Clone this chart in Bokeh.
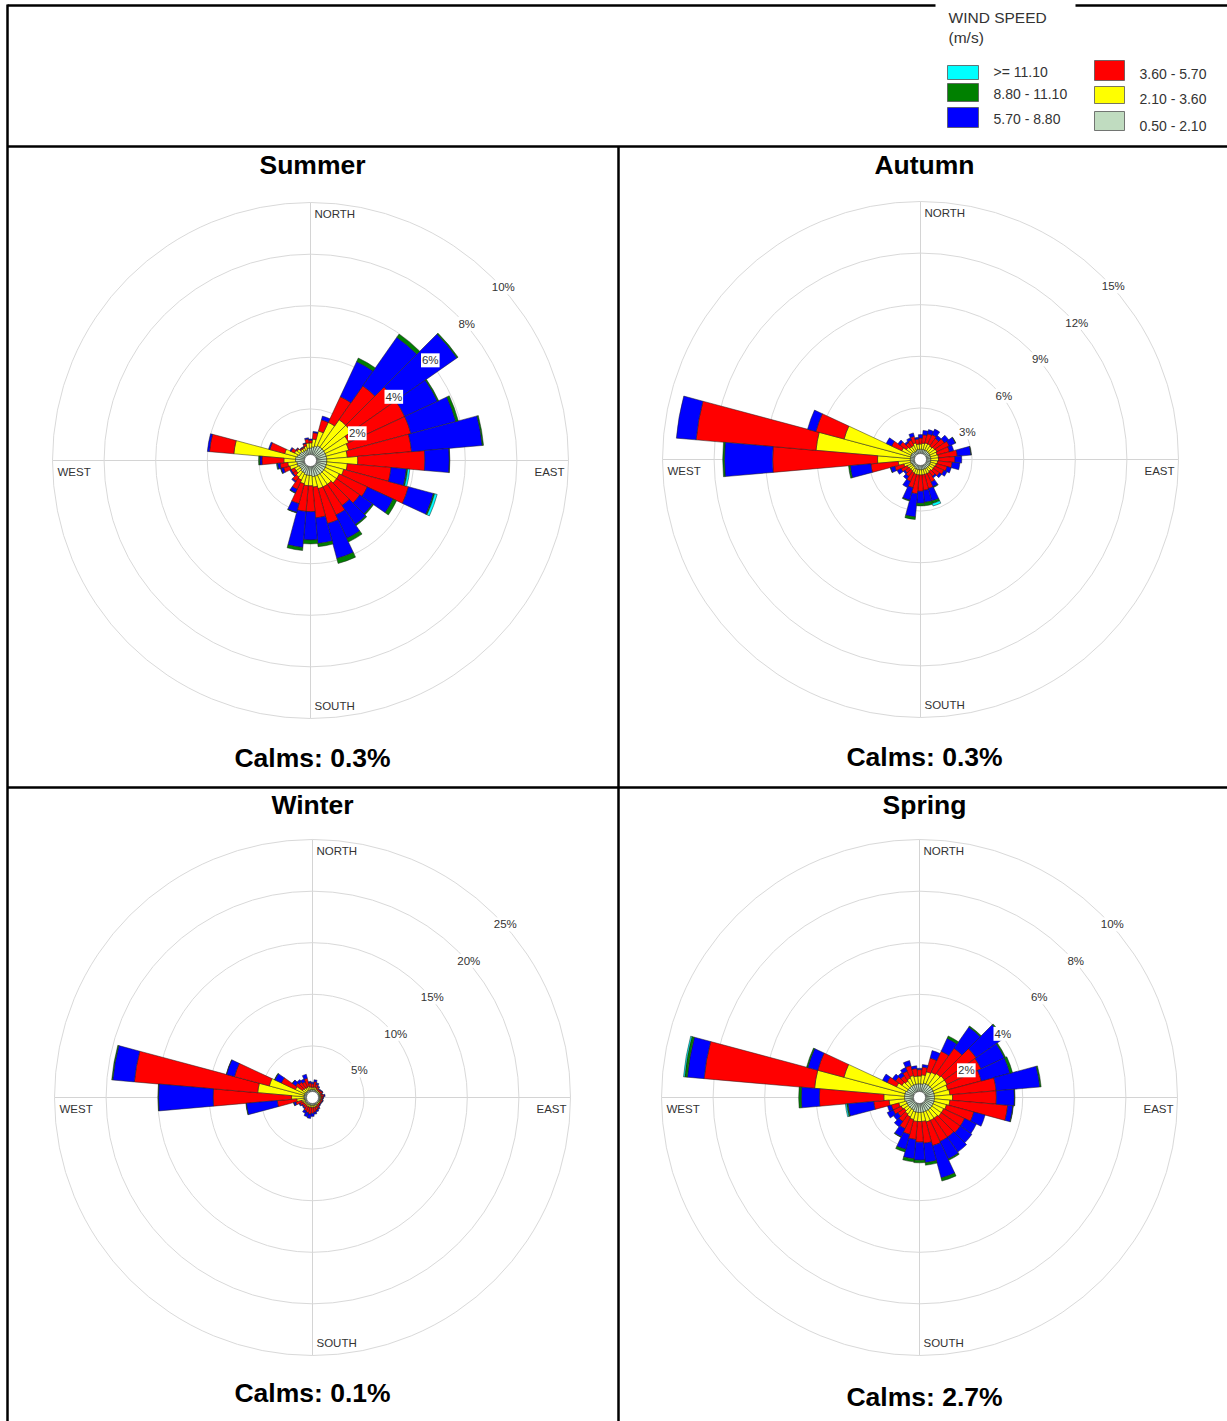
import numpy as np
from bokeh.plotting import figure
from bokeh.models import Range1d, ColumnDataSource
from bokeh.embed import file_html
from bokeh.resources import INLINE
from bokeh.core.properties import value

W, H = 1227, 1421
FONT = value("Liberation Sans")

# 36 sectors, centred on 0, 10, ... 350 degrees (compass)
directions = np.arange(0, 360, 10)
speed_bins = ["0.50 - 2.10", "2.10 - 3.60", "3.60 - 5.70", "5.70 - 8.80", "8.80 - 11.10", ">= 11.10"]
bin_colors = ["#c0dcc0", "#ffff00", "#ff0000", "#0000ff", "#008000", "#00ffff"]

seasons = ["Summer", "Autumn", "Winter", "Spring"]
calms_pct = [0.3, 0.3, 0.1, 2.7]
ring_max = [10, 15, 25, 10]
ring_step = [2, 3, 5, 2]

# ---- frequency (%) by sector, one list per speed class ----
summer_050 = [0.25, 0.30, 0.35, 0.40, 0.40, 0.40, 0.40, 0.40, 0.40, 0.40, 0.40, 0.40,
              0.40, 0.40, 0.40, 0.40, 0.40, 0.40, 0.35, 0.35, 0.35, 0.30, 0.30, 0.25,
              0.25, 0.30, 0.30, 0.35, 0.35, 0.30, 0.25, 0.25, 0.20, 0.20, 0.20, 0.25]
summer_210 = [0.20, 0.30, 0.60, 1.00, 1.30, 1.30, 1.00, 0.90, 0.80, 1.20, 0.80, 0.70,
              0.60, 0.60, 0.50, 0.50, 0.50, 0.40, 0.40, 0.40, 0.35, 0.30, 0.25, 0.20,
              0.20, 0.30, 0.35, 0.45, 2.40, 0.50, 0.20, 0.15, 0.10, 0.10, 0.15, 0.20]
summer_360 = [0.10, 0.25, 0.45, 1.10, 1.60, 2.10, 2.40, 2.50, 2.50, 2.60, 1.70, 2.60,
              1.20, 1.10, 1.00, 1.20, 1.40, 1.20, 1.00, 1.00, 0.80, 0.40, 0.20, 0.15,
              0.15, 0.25, 0.30, 0.85, 0.95, 0.60, 0.15, 0.05, 0.05, 0.05, 0.10, 0.15]
summer_570 = [0.05, 0.05, 0.15, 1.50, 2.30, 2.90, 1.40, 1.80, 2.75, 0.95, 0.60, 1.00,
              1.10, 0.60, 0.90, 1.00, 1.40, 1.00, 1.10, 1.40, 0.35, 0.15, 0.05, 0.05,
              0.05, 0.10, 0.10, 0.08, 0.08, 0.05, 0.05, 0.02, 0.02, 0.02, 0.03, 0.05]
summer_880 = [0.00, 0.00, 0.00, 0.15, 0.15, 0.05, 0.05, 0.10, 0.05, 0.02, 0.05, 0.05,
              0.15, 0.05, 0.05, 0.15, 0.20, 0.12, 0.15, 0.12, 0.02, 0.02, 0.00, 0.00,
              0.00, 0.02, 0.02, 0.05, 0.00, 0.00, 0.00, 0.00, 0.00, 0.00, 0.00, 0.00]
summer_1110 = [0.00, 0.00, 0.00, 0.00, 0.00, 0.00, 0.00, 0.00, 0.00, 0.00, 0.08, 0.10,
               0.00, 0.00, 0.00, 0.00, 0.00, 0.00, 0.00, 0.00, 0.00, 0.00, 0.00, 0.00,
               0.00, 0.00, 0.02, 0.00, 0.00, 0.00, 0.00, 0.00, 0.00, 0.00, 0.00, 0.00]

autumn_050 = [0.25, 0.25, 0.25, 0.25, 0.25, 0.25, 0.25, 0.25, 0.25, 0.25, 0.25, 0.25,
              0.25, 0.25, 0.25, 0.25, 0.25, 0.25, 0.25, 0.25, 0.25, 0.25, 0.20, 0.20,
              0.20, 0.25, 0.25, 0.25, 0.25, 0.25, 0.25, 0.25, 0.20, 0.20, 0.25, 0.25]
autumn_210 = [0.30, 0.35, 0.40, 0.40, 0.35, 0.40, 0.45, 0.40, 0.45, 0.45, 0.40, 0.35,
              0.30, 0.30, 0.25, 0.30, 0.30, 0.30, 0.30, 0.30, 0.30, 0.25, 0.25, 0.25,
              0.30, 0.40, 0.70, 1.90, 5.50, 4.00, 0.60, 0.40, 0.35, 0.35, 0.40, 0.30]
autumn_360 = [0.35, 0.50, 0.55, 0.60, 0.55, 0.70, 0.80, 0.75, 1.10, 0.95, 0.85, 0.65,
              0.60, 0.45, 0.35, 0.55, 0.85, 0.90, 0.95, 1.10, 0.80, 0.55, 0.40, 0.30,
              0.40, 0.55, 1.60, 6.10, 7.00, 1.70, 0.65, 0.45, 0.30, 0.35, 0.40, 0.30]
autumn_570 = [0.20, 0.25, 0.25, 0.35, 0.20, 0.30, 0.40, 0.25, 0.80, 0.40, 0.45, 0.25,
              0.20, 0.15, 0.10, 0.30, 0.75, 0.70, 0.70, 1.35, 0.75, 0.40, 0.20, 0.10,
              0.25, 0.25, 1.20, 2.80, 1.15, 0.50, 0.35, 0.15, 0.10, 0.15, 0.20, 0.10]
autumn_880 = [0.00, 0.00, 0.00, 0.00, 0.00, 0.00, 0.02, 0.00, 0.02, 0.00, 0.00, 0.00,
              0.00, 0.00, 0.00, 0.05, 0.15, 0.20, 0.15, 0.15, 0.05, 0.00, 0.00, 0.00,
              0.00, 0.02, 0.10, 0.10, 0.00, 0.00, 0.00, 0.00, 0.00, 0.00, 0.00, 0.00]
autumn_1110 = [0.00, 0.00, 0.00, 0.00, 0.00, 0.00, 0.00, 0.00, 0.00, 0.00, 0.00, 0.00,
               0.00, 0.00, 0.00, 0.00, 0.15, 0.00, 0.00, 0.00, 0.00, 0.00, 0.00, 0.00,
               0.00, 0.00, 0.00, 0.00, 0.00, 0.00, 0.00, 0.00, 0.00, 0.00, 0.00, 0.00]

winter_050 = [0.20, 0.20, 0.20, 0.15, 0.15, 0.15, 0.15, 0.15, 0.15, 0.15, 0.15, 0.15,
              0.15, 0.15, 0.15, 0.20, 0.20, 0.20, 0.20, 0.20, 0.20, 0.20, 0.20, 0.20,
              0.20, 0.20, 0.25, 0.25, 0.25, 0.25, 0.25, 0.20, 0.20, 0.20, 0.20, 0.20]
winter_210 = [0.20, 0.25, 0.20, 0.15, 0.10, 0.10, 0.10, 0.10, 0.10, 0.10, 0.10, 0.10,
              0.10, 0.10, 0.10, 0.15, 0.15, 0.20, 0.20, 0.20, 0.20, 0.20, 0.15, 0.15,
              0.20, 0.30, 0.70, 1.20, 4.50, 3.50, 1.00, 0.40, 0.35, 0.30, 0.35, 0.25]
winter_360 = [0.35, 0.50, 0.35, 0.25, 0.15, 0.20, 0.25, 0.15, 0.30, 0.20, 0.15, 0.20,
              0.15, 0.15, 0.20, 0.25, 0.35, 0.45, 0.55, 0.65, 0.55, 0.45, 0.30, 0.25,
              0.35, 0.60, 1.90, 7.60, 12.00, 3.50, 1.50, 0.80, 0.70, 0.60, 0.80, 0.40]
winter_570 = [0.15, 0.20, 0.15, 0.10, 0.05, 0.05, 0.05, 0.03, 0.10, 0.05, 0.05, 0.05,
              0.03, 0.05, 0.05, 0.10, 0.15, 0.20, 0.30, 0.40, 0.40, 0.25, 0.10, 0.10,
              0.10, 0.20, 3.00, 5.30, 2.10, 0.80, 0.70, 0.40, 0.30, 0.30, 0.40, 0.15]
winter_880 = [0.00, 0.00, 0.00, 0.00, 0.00, 0.00, 0.00, 0.00, 0.00, 0.00, 0.00, 0.00,
              0.00, 0.00, 0.00, 0.00, 0.00, 0.00, 0.00, 0.00, 0.00, 0.00, 0.00, 0.00,
              0.00, 0.02, 0.05, 0.05, 0.10, 0.02, 0.05, 0.02, 0.00, 0.00, 0.00, 0.00]
winter_1110 = [0.00] * 36

spring_050 = [0.30, 0.30, 0.35, 0.35, 0.35, 0.35, 0.35, 0.35, 0.35, 0.35, 0.35, 0.35,
              0.35, 0.35, 0.35, 0.35, 0.35, 0.35, 0.35, 0.35, 0.35, 0.30, 0.30, 0.30,
              0.30, 0.30, 0.35, 0.35, 0.35, 0.35, 0.30, 0.30, 0.30, 0.30, 0.30, 0.30]
spring_210 = [0.30, 0.35, 0.45, 0.50, 0.55, 0.60, 0.60, 0.55, 0.60, 0.70, 0.60, 0.50,
              0.45, 0.45, 0.40, 0.40, 0.40, 0.35, 0.35, 0.35, 0.30, 0.30, 0.25, 0.20,
              0.25, 0.30, 0.60, 0.80, 3.50, 2.45, 0.45, 0.30, 0.25, 0.30, 0.35, 0.30]
spring_360 = [0.25, 0.30, 0.55, 0.90, 1.20, 1.50, 1.45, 1.35, 1.80, 1.70, 2.25, 1.10,
              0.90, 0.90, 0.90, 0.90, 0.95, 0.85, 0.80, 0.70, 0.60, 0.50, 0.35, 0.30,
              0.35, 0.30, 0.60, 2.50, 4.30, 1.05, 0.40, 0.30, 0.25, 0.30, 0.40, 0.30]
spring_570 = [0.05, 0.10, 0.30, 0.55, 1.00, 1.30, 1.00, 1.15, 1.70, 0.70, 0.20, 0.45,
              0.50, 0.55, 0.70, 0.75, 1.30, 0.75, 0.70, 0.75, 0.60, 0.35, 0.25, 0.20,
              0.25, 0.15, 1.00, 0.70, 0.65, 0.40, 0.20, 0.15, 0.15, 0.15, 0.20, 0.10]
spring_880 = [0.00, 0.00, 0.00, 0.10, 0.05, 0.05, 0.05, 0.10, 0.05, 0.02, 0.02, 0.00,
              0.00, 0.00, 0.00, 0.05, 0.12, 0.10, 0.10, 0.12, 0.10, 0.02, 0.00, 0.00,
              0.00, 0.00, 0.05, 0.10, 0.10, 0.05, 0.00, 0.00, 0.00, 0.00, 0.00, 0.00]
spring_1110 = [0.00, 0.00, 0.00, 0.00, 0.00, 0.00, 0.00, 0.00, 0.00, 0.00, 0.00, 0.00,
               0.00, 0.00, 0.00, 0.00, 0.00, 0.00, 0.00, 0.00, 0.00, 0.00, 0.00, 0.00,
               0.00, 0.00, 0.05, 0.00, 0.05, 0.00, 0.00, 0.00, 0.00, 0.00, 0.00, 0.00]

season_classes = [
    [summer_050, summer_210, summer_360, summer_570, summer_880, summer_1110],
    [autumn_050, autumn_210, autumn_360, autumn_570, autumn_880, autumn_1110],
    [winter_050, winter_210, winter_360, winter_570, winter_880, winter_1110],
    [spring_050, spring_210, spring_360, spring_570, spring_880, spring_1110],
]

# page layout (screen pixels): rose centres and text rows
rose_centres = [(310, 460), (920, 459), (312, 1097), (919, 1097)]
column_mid = [312, 924, 312, 924]
title_y = [164, 164, 804, 804]
calms_y = [757, 756, 1392, 1396]
ROSE_PX = 258   # outer ring radius on screen
HOLE_PX = 6     # calm circle radius on screen

p = figure(width=W, height=H, x_range=Range1d(0, W), y_range=Range1d(H, 0),
           output_backend="svg", toolbar_location=None,
           x_axis_location=None, y_axis_location=None, min_border=0)
p.grid.visible = False
p.outline_line_color = None
p.background_fill_color = "white"
p.border_fill_color = "white"


def stacked_wedges(classes, r0):
    data = dict(inner=[], outer=[], start=[], end=[], color=[])
    base = np.full(len(directions), r0, dtype=float)
    for vals, col in zip(classes, bin_colors):
        vals = np.asarray(vals, dtype=float)
        top = base + vals
        keep = vals > 0
        data["inner"] += base[keep].tolist()
        data["outer"] += top[keep].tolist()
        data["start"] += (90 - directions[keep] - 5).tolist()
        data["end"] += (90 - directions[keep] + 5).tolist()
        data["color"] += [col] * int(keep.sum())
        base = top
    return data


for i, season in enumerate(seasons):
    cx, cy = rose_centres[i]
    R = ring_max[i]
    step = ring_step[i]
    rose = p.subplot(
        x_source=Range1d(-R, R), y_source=Range1d(-R, R),
        x_target=Range1d(cx - ROSE_PX, cx + ROSE_PX),
        y_target=Range1d(cy + ROSE_PX, cy - ROSE_PX),
    )
    rings = list(range(step, R + 1, step))
    # grid: cross hairs and concentric rings
    rose.segment(x0=[-R, 0], y0=[0, -R], x1=[R, 0], y1=[0, R],
                 line_color="#d4d4d4", line_width=1)
    rose.circle(x=[0] * len(rings), y=[0] * len(rings), radius=rings,
                fill_color=None, line_color="#d9d9d9", line_width=1)

    r0 = HOLE_PX * R / ROSE_PX
    src = ColumnDataSource(stacked_wedges(season_classes[i], r0))
    rose.annular_wedge(x=0, y=0, inner_radius="inner", outer_radius="outer",
                       start_angle="start", end_angle="end",
                       start_angle_units="deg", end_angle_units="deg",
                       fill_color="color", line_color="#1e1e1e", line_width=0.5,
                       source=src)
    rose.circle(x=[0], y=[0], radius=[r0], fill_color="white",
                line_color="#555555", line_width=0.6)

    # ring labels along the north-east diagonal
    c45 = np.cos(np.radians(45))
    rose.text(x=[v * c45 + 0.2 * step for v in rings],
              y=[v * c45 - 0.18 * step for v in rings],
              text=[f"{v}%" for v in rings],
              text_font=FONT, text_font_size="11.5px", text_color="#333333",
              text_align="center", text_baseline="middle",
              background_fill_color="white", padding=1)

    # compass labels
    p.text(x=[cx + 4, cx + 4, cx - 253], y=[cy - 247, cy + 245, cy + 11],
           text=["NORTH", "SOUTH", "WEST"], text_font=FONT, text_font_size="11.5px",
           text_color="#333333", text_align="left", text_baseline="middle")
    p.text(x=[cx + 254], y=[cy + 11], text=["EAST"], text_font=FONT,
           text_font_size="11.5px", text_color="#333333",
           text_align="right", text_baseline="middle")

    # season title and calm percentage
    p.text(x=[column_mid[i], column_mid[i]], y=[title_y[i], calms_y[i]],
           text=[season, f"Calms: {calms_pct[i]:.1f}%"], text_font=FONT,
           text_font_style="bold", text_font_size="26.5px", text_color="black",
           text_align="center", text_baseline="middle")

# ---- legend ----
legend_left = [947, 947, 947, 1094, 1094, 1094]
legend_right = [978, 978, 978, 1124, 1124, 1124]
legend_top = [65, 83, 107, 60, 86, 111]
legend_bottom = [79, 101, 127, 80, 103, 130]
legend_order = [5, 4, 3, 2, 1, 0]
p.quad(left=legend_left, right=legend_right, top=legend_top, bottom=legend_bottom,
       fill_color=[bin_colors[k] for k in legend_order], line_color="#555555", line_width=0.8)
p.text(x=[993, 993, 993, 1139, 1139, 1139], y=[71, 93, 118, 73, 98, 125],
       text=[speed_bins[k] for k in legend_order], text_font=FONT, text_font_size="14px",
       text_color="#333333", text_align="left", text_baseline="middle")
p.text(x=[948, 948], y=[17, 37], text=["WIND SPEED", "(m/s)"], text_font=FONT,
       text_font_size="15.5px", text_color="#333333", text_align="left", text_baseline="middle")

# ---- table rules ----
p.segment(x0=[7, 1075, 7, 7, 618, 7], y0=[5, 5, 4, 146, 146, 787],
          x1=[935, W, 7, W, 618, W], y1=[5, 5, H, 146, H, 787],
          line_color="black", line_width=2.5)

open("out.html", "w").write(file_html(p, INLINE))
